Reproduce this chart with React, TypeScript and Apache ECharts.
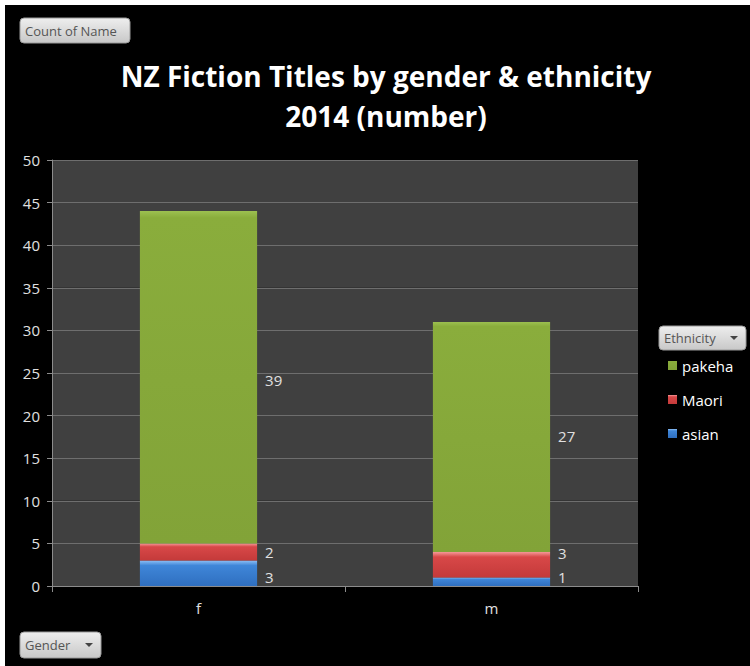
import React, { useEffect, useRef } from "react";
import * as echarts from "echarts";

const categories = ["f", "m"];
const seriesNames = ["asian", "Maori", "pakeha"];
const asianValues = [3, 1];
const maoriValues = [2, 3];
const pakehaValues = [39, 27];
const legendOrder = ["pakeha", "Maori", "asian"];
const titleText = "NZ Fiction Titles by gender & ethnicity\n2014 (number)";

const FONT = "'Open Sans', 'Noto Sans', sans-serif";

function grad(top: string, mid: string, bottom: string, edge: number) {
  return new echarts.graphic.LinearGradient(0, 0, 0, 1, [
    { offset: 0, color: top },
    { offset: edge, color: mid },
    { offset: 1, color: bottom },
  ]);
}

function button(x: number, y: number, w: number, h: number, label: string, arrow: boolean) {
  const children: any[] = [
    {
      type: "rect",
      shape: { x: 0, y: 0, width: w, height: h, r: 4 },
      style: {
        fill: new echarts.graphic.LinearGradient(0, 0, 0, 1, [
          { offset: 0, color: "#eeeeee" },
          { offset: 1, color: "#c8c8c8" },
        ]),
        stroke: "#9a9a9a",
        lineWidth: 1,
      },
    },
    {
      type: "text",
      x: 5,
      y: h / 2,
      style: {
        text: label,
        fill: "#555555",
        font: `13px ${FONT}`,
        verticalAlign: "middle",
      },
    },
  ];
  if (arrow) {
    children.push({
      type: "polygon",
      shape: { points: [[w - 16, h / 2 - 2], [w - 8, h / 2 - 2], [w - 12, h / 2 + 2]] },
      style: { fill: "#444444" },
    });
  }
  return { type: "group", x, y, children };
}

// per-point label nudges (Excel spreads labels of thin segments apart)
const labelNudges = [
  [4, -5],
  [0, -12],
  [3, -1],
];

export default function App() {
  const ref = useRef<HTMLDivElement>(null);
  useEffect(() => {
    if (!ref.current) return;
    const chart = echarts.init(ref.current, undefined, { renderer: "svg" });
    const colors = [
      grad("#8fc0f5", "#3f86d8", "#2f6fc0", 0.2),
      grad("#f59a9a", "#d84848", "#c43a3a", 0.2),
      grad("#9cc050", "#8aad3c", "#82a338", 0.02),
    ];
    const dataSets = [asianValues, maoriValues, pakehaValues];
    const legendColors = ["#4f86d0", "#d04848", "#8db33c"];
    const option: any = {
      animation: false,
      backgroundColor: "#000000",
      color: legendColors,
      title: {
        text: titleText,
        left: 381,
        top: 51,
        textAlign: "center",
        textStyle: {
          color: "#ffffff",
          fontSize: 28,
          fontWeight: "bold",
          fontFamily: FONT,
          lineHeight: 40,
        },
      },
      legend: {
        orient: "vertical",
        left: 663,
        top: 353,
        itemWidth: 9,
        itemHeight: 9,
        itemGap: 19,
        icon: "rect",
        data: legendOrder,
        textStyle: { color: "#ffffff", fontSize: 15, fontFamily: FONT, padding: [0, 0, 0, 0] },
      },
      grid: { left: 52, right: 112, top: 160, bottom: 80 },
      xAxis: {
        type: "category",
        data: categories,
        axisLine: { lineStyle: { color: "#8c8c8c" } },
        axisTick: { show: true, length: 6, lineStyle: { color: "#8c8c8c" } },
        axisLabel: { color: "#e0e0e0", fontSize: 15, fontFamily: FONT, margin: 14 },
      },
      yAxis: {
        type: "value",
        min: 0,
        max: 50,
        interval: 5,
        axisLine: { show: true, lineStyle: { color: "#8c8c8c" } },
        axisTick: { show: true, length: 5, lineStyle: { color: "#8c8c8c" } },
        splitLine: { lineStyle: { color: "#6e6e6e" } },
        splitArea: { show: true, areaStyle: { color: ["#404040", "#404040"] } },
        axisLabel: { color: "#e0e0e0", fontSize: 15, fontFamily: FONT, margin: 12 },
      },
      series: seriesNames.map((name, i) => ({
        name,
        type: "bar",
        stack: "total",
        barWidth: "40%",
        data: dataSets[i].map((v, j) => ({
          value: v,
          label: { offset: [0, labelNudges[i][j]] },
        })),
        itemStyle: { color: colors[i] },
        label: {
          show: true,
          position: "right",
          distance: 8,
          color: "#e0e0e0",
          fontSize: 15,
          fontFamily: FONT,
        },
      })),
      graphic: [
        { type: "rect", shape: { x: 0, y: 0, width: 750, height: 5 }, style: { fill: "#ffffff" } },
        { type: "rect", shape: { x: 0, y: 0, width: 5, height: 666 }, style: { fill: "#ffffff" } },
        button(20, 18, 110, 25, "Count of Name", false),
        button(20, 632, 81, 26, "Gender", true),
        button(659, 326, 87, 24, "Ethnicity", true),
      ],
    };
    chart.setOption(option);
    return () => chart.dispose();
  }, []);
  return (
    <div
      ref={ref}
      style={{ position: "fixed", left: 0, top: 0, width: 750, height: 666 }}
    />
  );
}
